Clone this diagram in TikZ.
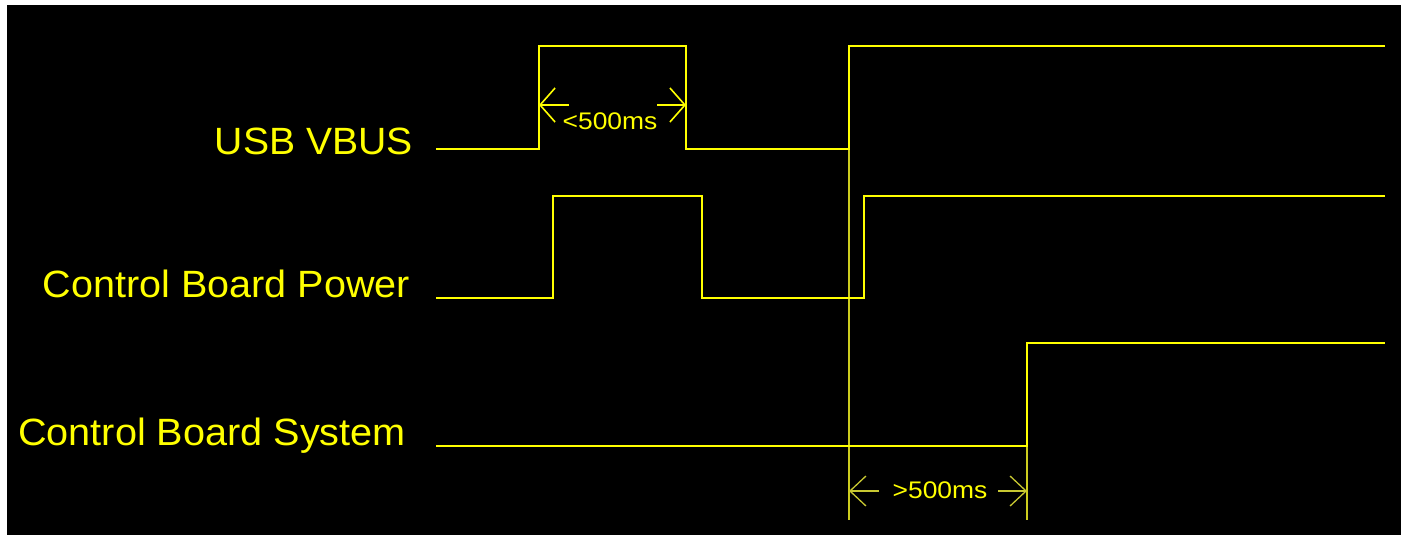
\documentclass[tikz,border=0pt]{standalone}
\usepackage{fontspec}
\setmainfont{Liberation Sans}
\usetikzlibrary{arrows.meta}
\definecolor{sigyel}{RGB}{255,255,0}
\definecolor{thinyel}{RGB}{205,205,30}
\definecolor{dimyel}{RGB}{200,200,50}
\begin{document}
\begin{tikzpicture}[x=1pt,y=-1pt,
  sigline/.style={draw=sigyel,line width=2.2pt},
  guide/.style={draw=thinyel,line width=1.1pt},
  lab/.style={text=sigyel,inner sep=0pt,anchor=base east,font=\fontsize{38}{40}\selectfont},
  dimlab/.style={text=sigyel,inner sep=0pt,font=\fontsize{24}{26}\selectfont},
  dimarrowA/.style={draw=sigyel,line width=1.6pt,-{Straight Barb[length=15pt,width=34pt,line width=1.6pt]}},
  dimarrowB/.style={draw=dimyel,line width=1.3pt,-{Straight Barb[length=16pt,width=30pt,line width=1.3pt]}}]
\useasboundingbox (0,0) rectangle (1407,538);
\fill[white] (0,0) rectangle (1407,538);
\fill[black] (7,5) rectangle (1401,535);

% labels
\node[lab] (vbus) at (413,154) {\scalebox{1.03}[1]{USB VBUS}};
\node[lab] (pwr) at (410,297) {\scalebox{1.04}[1]{Control Board Power}};
\node[lab] (sys) at (406,445) {\scalebox{1.043}[1]{Control Board System}};

% guide lines
\coordinate (g1top) at (849,149);
\coordinate (g1bot) at (849,520);
\coordinate (g2top) at (1027,446);
\coordinate (g2bot) at (1027,520);
\draw[guide] (g1top) -- (g1bot);
\draw[guide] (g2top) -- (g2bot);

% waveforms
\draw[sigline] (436,149) -| (539,46) -| (686,149) -| (849,46) -- (1385,46);
\draw[sigline] (436,298) -| (553,196) -| (702,298) -| (864,196) -- (1385,196);
\draw[sigline] (436,446) -| (1027,343) -- (1385,343);

% <500ms dimension
\coordinate (a1tip) at (539,105);
\coordinate (a1s) at (569,105);
\coordinate (a2tip) at (686,105);
\coordinate (a2s) at (657,105);
\draw[dimarrowA] (a1s) -- (a1tip);
\draw[dimarrowA] (a2s) -- (a2tip);
\node[dimlab] (lt500) at (610,121) {\scalebox{1.1}[1]{<500ms}};

% >500ms dimension
\coordinate (b1tip) at (849,491);
\coordinate (b1s) at (879,491);
\coordinate (b2tip) at (1027,491);
\coordinate (b2s) at (998,491);
\draw[dimarrowB] (b1s) -- (b1tip);
\draw[dimarrowB] (b2s) -- (b2tip);
\node[dimlab] (gt500) at (940,490) {\scalebox{1.1}[1]{>500ms}};
\end{tikzpicture}
\end{document}
